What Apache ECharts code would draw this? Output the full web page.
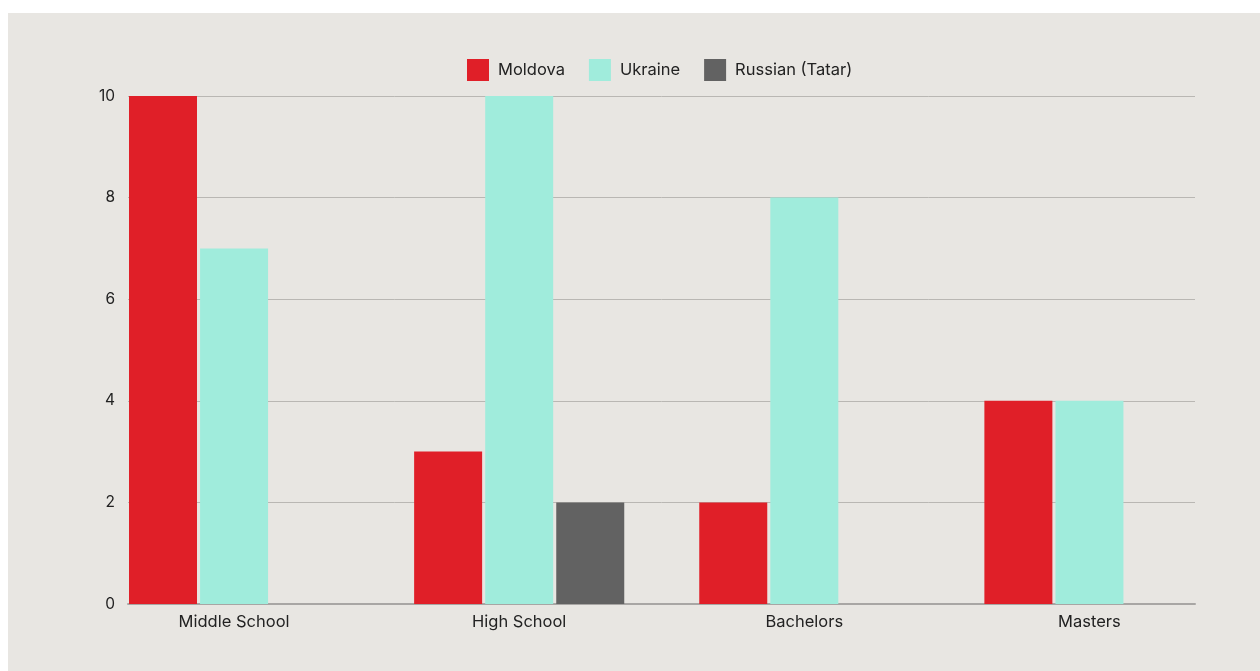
<!DOCTYPE html>
<html>
<head>
<meta charset="utf-8">
<script src="https://cdn.jsdelivr.net/npm/echarts@6/dist/echarts.min.js"></script>
<style>
  html, body { margin: 0; padding: 0; background: #ffffff; }
  #chart { position: absolute; left: 8px; top: 13px; width: 1252px; height: 658px; background: #e8e6e2; }
</style>
</head>
<body>
<div id="chart"></div>
<script>
// Education level counts by country of origin
const categories = ['Middle School', 'High School', 'Bachelors', 'Masters'];
const moldova = [10, 3, 2, 4];
const ukraine = [7, 10, 8, 4];
const russianTatar = [0, 2, 0, 0];
const yTicks = [0, 2, 4, 6, 8, 10];

const FONT = 'Inter, "Noto Sans", sans-serif';
const chart = echarts.init(document.getElementById('chart'));

const bar = (name, data, color) => ({
  name, type: 'bar', data,
  xAxisIndex: 1, yAxisIndex: 1,
  barWidth: 68, barGap: '4.5%',
  itemStyle: { color },
  silent: true
});

chart.setOption({
  animation: false,
  backgroundColor: '#e8e6e2',
  legend: {
    top: 41,
    left: 454,
    itemWidth: 22, itemHeight: 22, itemGap: 24,
    icon: 'rect',
    textStyle: { fontFamily: FONT, fontSize: 16.5, color: '#222222', padding: [0, 0, 0, 4] },
    data: ['Moldova', 'Ukraine', 'Russian (Tatar)']
  },
  grid: [
    { left: 120, right: 65, top: 83, bottom: 67 },
    { left: 83.5, right: 28, top: 83, bottom: 67 }
  ],
  xAxis: [
    {
      gridIndex: 0, type: 'value', min: 0, max: 1,
      axisLine: { show: true, lineStyle: { color: '#a8a6a4', width: 2 } },
      axisTick: { show: false }, axisLabel: { show: false }, splitLine: { show: false }
    },
    {
      gridIndex: 1, type: 'category', data: categories,
      axisLine: { show: false }, axisTick: { show: false },
      axisLabel: { fontFamily: FONT, fontSize: 16.5, color: '#222222', margin: 10 }
    }
  ],
  yAxis: [
    {
      gridIndex: 0, type: 'value', min: yTicks[0], max: yTicks[yTicks.length - 1], interval: 2,
      axisLine: { show: false }, axisTick: { show: false },
      axisLabel: { fontFamily: FONT, fontSize: 15.5, color: '#222222', margin: 13 },
      splitLine: { lineStyle: { color: '#b9b7b3', width: 1 } }
    },
    {
      gridIndex: 1, type: 'value', min: yTicks[0], max: yTicks[yTicks.length - 1], interval: 2,
      axisLine: { show: false }, axisTick: { show: false },
      axisLabel: { show: false }, splitLine: { show: false }
    }
  ],
  series: [
    bar('Moldova', moldova, '#e01f28'),
    bar('Ukraine', ukraine, '#a0ecdc'),
    bar('Russian (Tatar)', russianTatar, '#626262')
  ]
});
</script>
</body>
</html>
